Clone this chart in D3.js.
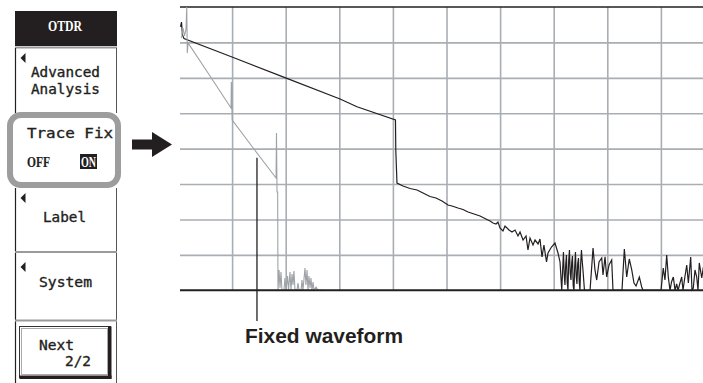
<!DOCTYPE html>
<html><head><meta charset="utf-8">
<script src="https://cdn.jsdelivr.net/npm/d3@7"></script>
<style>html,body{margin:0;padding:0;background:#fff;overflow:hidden}svg{display:block}</style>
</head><body><svg id="c" width="703" height="383"></svg>
<script>
// ---- data ----
const distanceTicks = [5,10,15,20,25,30,35,40,45];   // km, vertical grid
const levelTicks = [5,10,15,20,25,30,35];             // dB, horizontal grid

// current (live) trace
const liveDistance = [0.19,0.28,0.37,0.51,4.99,9.93,15.07,16.65,20.24,20.27,20.38,20.94,21.60,22.25,22.81,23.46,24.02,24.58,25.14,25.51,26.07,26.54,27.01,27.57,28.13,28.59,28.87,29.06,29.34,29.62,29.80,29.99,30.27,30.46,30.83,31.11,31.39,31.67,31.86,32.14,32.42,32.60,32.79,33.07,33.26,33.54,33.72,33.91,34.09,34.33,34.47,34.79,35.12,35.40,35.59,35.75,35.84,35.91,35.98,36.05,36.12,36.19,36.26,36.33,36.40,36.47,36.54,36.61,36.68,36.75,36.82,36.89,36.96,37.03,37.10,37.17,37.24,37.31,37.38,37.45,37.52,37.59,37.66,37.73,37.87,38.39,38.67,38.85,39.01,39.23,39.48,39.60,39.79,39.94,40.16,40.41,40.53,41.37,41.59,41.81,42.05,42.28,42.49,42.68,42.99,43.21,43.33,45.01,45.22,45.38,45.54,45.69,45.85,45.99,46.16,46.32,46.47,46.60,46.78,46.94,47.06,47.25,47.41,47.56,47.78,47.90,48.02,48.18,48.34,48.46,48.58,48.81,48.96,49.11];
const liveLevel = [37.18,37.88,36.05,35.55,32.94,30.02,27.01,25.92,24.05,19.81,15.15,14.73,14.37,14.16,13.74,13.24,13.03,12.61,12.04,11.90,11.62,11.41,11.06,10.77,10.49,10.14,9.93,9.78,9.50,9.36,9.64,8.80,8.37,9.08,8.51,8.23,8.51,7.67,8.23,7.10,7.67,5.69,7.38,6.40,7.10,6.54,7.24,4.70,6.40,4.00,5.27,6.11,6.68,5.27,4.00,0,3.10,5.41,2.20,0.75,3.60,4.98,1.10,0,4.20,5.69,2.40,1.45,3.90,4.84,0.60,0,3.30,5.41,2.00,0.89,3.70,4.56,1.20,0,3.80,5.69,4.10,2.87,0,0,5.97,2.87,1.45,4.00,4.56,2.16,4.74,1.88,3.57,4.28,0,0,5.83,1.88,4.42,2.87,1.03,0.61,1.88,0.47,0,0,3.15,1.45,4.98,1.88,0,1.17,1.88,0,0.89,0,1.03,1.88,0,2.02,3.57,1.03,4.70,0,0.32,2.87,1.88,0,3.86,1.74,3.29,0];

// fixed waveform
const fixedDistance = [0.28,0.42,0.56,0.70,0.77,0.82,0.89,2.94,4.90,4.93,4.97,5.01,7.04,9.10,9.14,9.19,9.25,9.28,9.38,9.47,9.56,9.65,9.84,9.93,10.03,10.17,10.26,10.40,10.49,10.59,10.68,10.77,10.87,11.05,11.15,11.24,11.43,11.52,11.61,11.80,11.89,11.99,12.08,12.17,12.27,12.36,12.45,12.55,12.64,12.83,13.01,13.39];
const fixedLevel = [35.62,37.03,35.91,36.89,40,33.51,34.92,30.26,25.74,29.41,28.85,24.05,19.95,15.86,22.21,13.88,13.88,0,2.87,0.32,2.58,0,0,1.74,0,2.02,0,2.58,0,2.30,0.75,2.72,0,0,1.03,0,0,1.45,0,3.15,0.75,2.87,0,2.02,0.32,1.74,0,1.17,0,0.47,0,0];

const annotationText = "Fixed waveform";
const annotationDistance = 7.32;
const annotationLevel = 18.7;

// ---- drawing ----
const svg = d3.select('#c');
svg.append('rect').attr('width',703).attr('height',383).attr('fill','#fff');

const x = d3.scaleLinear().domain([0,50]).range([178.5,714.5]);
const y = d3.scaleLinear().domain([0,40]).range([290.3,7]);
const plotLeft = 180, plotRight = 703;
const ink = '#231f20', gridCol = '#a9aeb3', traceGray = '#9ea2a7';

// grid
const gx = svg.append('g').attr('transform',`translate(0,${y(0)})`)
  .call(d3.axisBottom(x).tickValues(distanceTicks).tickSize(-(y(0)-y(40))).tickFormat(''));
gx.select('.domain').remove();
gx.selectAll('line').attr('stroke',gridCol).attr('stroke-width',1.6);
const gy = svg.append('g').attr('transform',`translate(${plotLeft},0)`)
  .call(d3.axisLeft(y).tickValues(levelTicks).tickSize(-(plotRight-plotLeft)).tickFormat(''));
gy.select('.domain').remove();
gy.selectAll('line').attr('stroke',gridCol).attr('stroke-width',1.6);

// frame top
svg.append('line').attr('x1',plotLeft).attr('x2',plotRight).attr('y1',y(40)).attr('y2',y(40))
  .attr('stroke',ink).attr('stroke-width',1.4);

// traces
svg.append('clipPath').attr('id','clip').append('rect')
  .attr('x',plotLeft).attr('y',0).attr('width',plotRight-plotLeft).attr('height',y(0)+1);
const line = d3.line().x(d=>x(d[0])).y(d=>y(d[1]));
svg.append('path').attr('clip-path','url(#clip)')
  .attr('d',line(d3.zip(liveDistance,liveLevel)))
  .attr('fill','none').attr('stroke',ink).attr('stroke-width',1.2);
svg.append('path').attr('clip-path','url(#clip)')
  .attr('d',line(d3.zip(fixedDistance,fixedLevel)))
  .attr('fill','none').attr('stroke',traceGray).attr('stroke-width',1.1);

svg.append('line').attr('x1',plotLeft).attr('x2',plotRight).attr('y1',y(0)).attr('y2',y(0))
  .attr('stroke',ink).attr('stroke-width',2);

// annotation
svg.append('line').attr('x1',x(annotationDistance)).attr('x2',x(annotationDistance))
  .attr('y1',y(annotationLevel)).attr('y2',321).attr('stroke',ink).attr('stroke-width',1.3);
svg.append('text').attr('x',245).attr('y',343).text(annotationText)
  .attr('font-family','Liberation Sans, Arial, sans-serif').attr('font-weight','bold')
  .attr('font-size',20.5).attr('fill',ink).attr('textLength',158).attr('lengthAdjust','spacingAndGlyphs');

// arrow
svg.append('rect').attr('x',132).attr('y',139.5).attr('width',21).attr('height',10).attr('fill',ink);
svg.append('path').attr('d','M152,132 L172,144.5 L152,157 Z').attr('fill',ink);

// ---- soft-key panel ----
const P = svg.append('g');
const mono = 'DejaVu Sans Mono, monospace';
const sepGray = '#9a9a9a';
P.append('rect').attr('x',15).attr('y',11).attr('width',102).attr('height',35).attr('fill',ink);
P.append('text').attr('x',48).attr('y',31).text('OTDR').attr('fill','#fff')
  .attr('font-family','Liberation Serif, serif').attr('font-weight','bold').attr('font-size',14)
  .attr('textLength',34).attr('lengthAdjust','spacingAndGlyphs');
function vborders(y1,y2){
  P.append('line').attr('x1',15.5).attr('x2',15.5).attr('y1',y1).attr('y2',y2).attr('stroke',ink).attr('stroke-width',1.2);
  P.append('line').attr('x1',116.5).attr('x2',116.5).attr('y1',y1).attr('y2',y2).attr('stroke','#555').attr('stroke-width',1);
}
function hsep(yy){
  P.append('line').attr('x1',15).attr('x2',117).attr('y1',yy).attr('y2',yy).attr('stroke',sepGray).attr('stroke-width',2);
}
function tri(cy){
  P.append('path').attr('d',`M20.5,${cy} L25.5,${cy-5} L25.5,${cy+5} Z`).attr('fill',ink);
}
function label(t,x0,yb,len,opts={}){
  return P.append('text').attr('x',x0).attr('y',yb).text(t)
    .attr('font-family',opts.family||mono).attr('font-size',opts.size||13.5).attr('font-weight',opts.weight||'normal')
    .attr('fill',opts.fill||ink).attr('stroke',opts.fill||ink).attr('stroke-width',opts.sw==null?0.35:opts.sw)
    .attr('textLength',len).attr('lengthAdjust','spacingAndGlyphs');
}
hsep(47.5);
vborders(48,113);
tri(58);
label('Advanced',31,76.5,69);
label('Analysis',31,93.5,69);

// Trace Fix highlighted key
P.append('rect').attr('x',10).attr('y',115).attr('width',108).attr('height',70).attr('rx',11)
  .attr('fill','#fff').attr('stroke','#9d9d9d').attr('stroke-width',6);
label('Trace Fix',27,137.5,86,{size:14});
label('OFF',27,166.5,23,{weight:'bold',size:15.5,family:'Liberation Serif, serif',sw:0.2});
P.append('rect').attr('x',80).attr('y',154).attr('width',17).attr('height',15).attr('fill',ink);
label('ON',81,166.5,15,{weight:'bold',size:15.5,fill:'#fff',family:'Liberation Serif, serif',sw:0});

vborders(188,251);
tri(198);
label('Label',43,222,43);
hsep(252);
vborders(253,320);
tri(267);
label('System',39,287,53);
hsep(320.5);
vborders(321.5,383);
// Next button
P.append('rect').attr('x',19.5).attr('y',326.5).attr('width',91).attr('height',51).attr('fill','#fff').attr('stroke','#333').attr('stroke-width',1);
P.append('rect').attr('x',21.5).attr('y',328.5).attr('width',86).attr('height',46).attr('fill','none').attr('stroke','#aaa').attr('stroke-width',1);
P.append('rect').attr('x',19.5).attr('y',375.5).attr('width',92).attr('height',3.5).attr('fill',ink);
P.append('rect').attr('x',108).attr('y',326.5).attr('width',3.5).attr('height',52).attr('fill',ink);
label('Next',39,350,35);
label('2/2',65,366,26);
</script></body></html>
